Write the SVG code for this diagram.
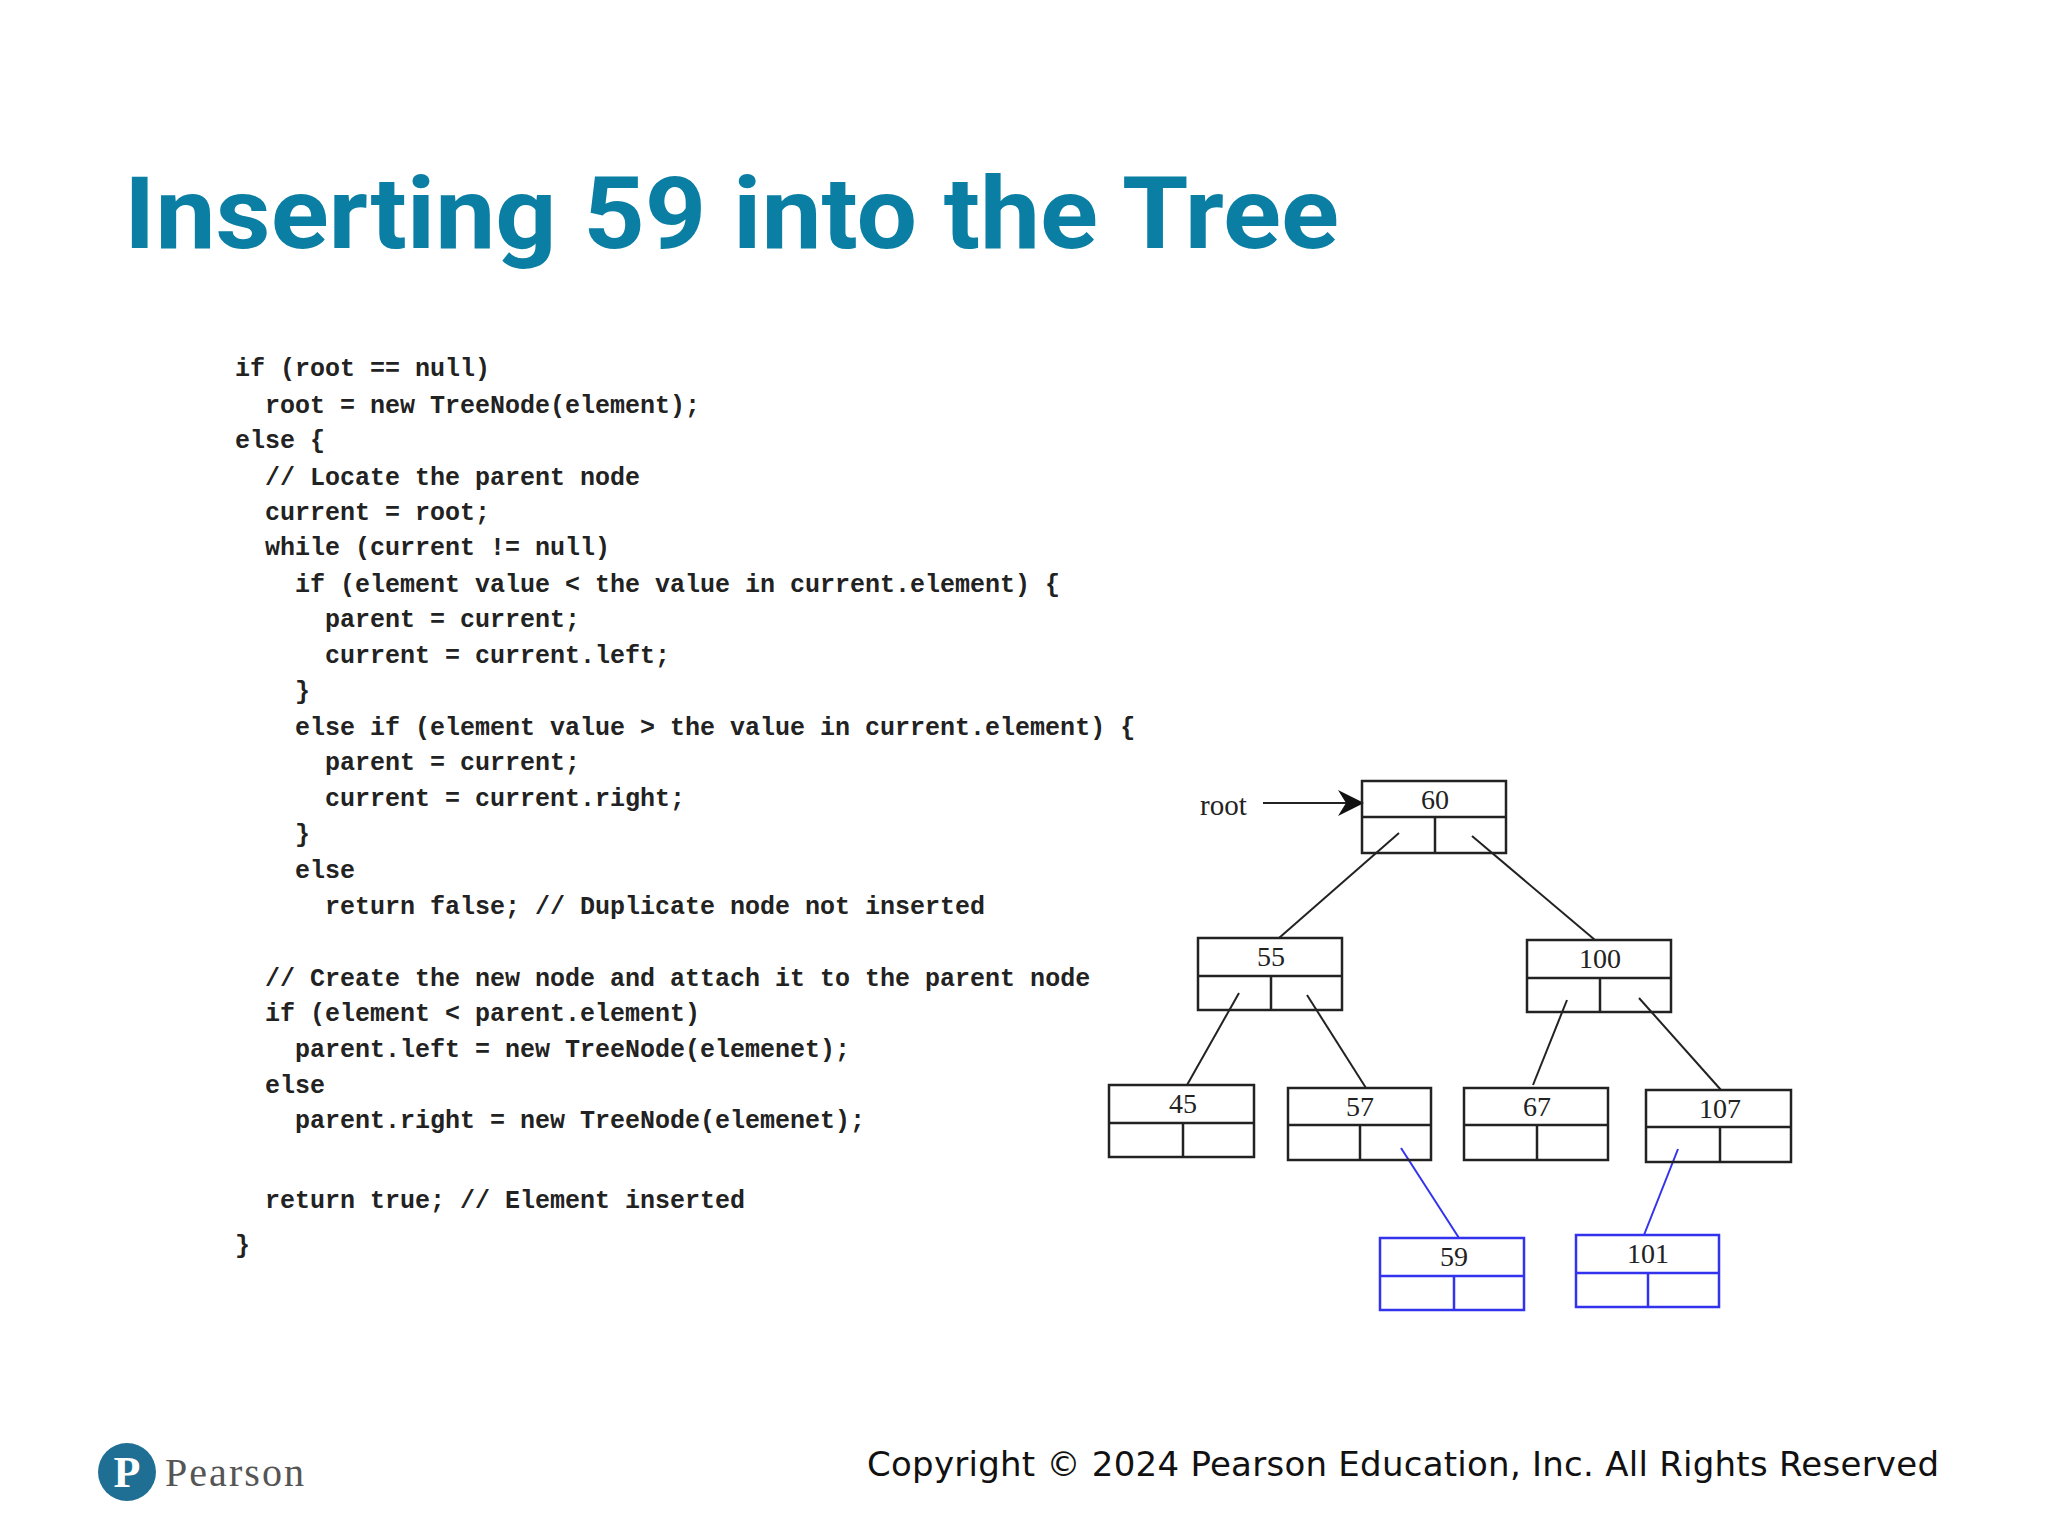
<svg xmlns="http://www.w3.org/2000/svg" width="2048" height="1536" viewBox="0 0 2048 1536">
<style>
.code{font-family:"Liberation Mono","DejaVu Sans Mono",monospace;font-size:25px;font-weight:bold;fill:#222;white-space:pre}
.n rect,.n line{fill:none;stroke:#222;stroke-width:2.5}
.b rect,.b line{fill:none;stroke:#3333ee;stroke-width:2.5}
.n text,.b text{font-family:"Liberation Serif",serif;font-size:28px;fill:#222;text-anchor:middle}
.e{stroke:#222;stroke-width:2}
.eb{stroke:#3333ee;stroke-width:2}
</style>
<defs><marker id="ah" markerWidth="26" markerHeight="26" refX="24" refY="13" orient="auto" markerUnits="userSpaceOnUse"><path d="M0,0 L26,13 L0,26 L8,13 Z" fill="#111"/></marker></defs>
<rect width="2048" height="1536" fill="#fff"/>
<text x="124" y="248" font-family="Roboto,'Liberation Sans',sans-serif" font-weight="bold" font-size="100" fill="#0a7fa3" textLength="1215" lengthAdjust="spacingAndGlyphs">Inserting 59 into the Tree</text>
<g id="code">
<text class="code" x="235" y="376">if (root == null)</text>
<text class="code" x="265" y="413">root = new TreeNode(element);</text>
<text class="code" x="235" y="448">else {</text>
<text class="code" x="265" y="485">// Locate the parent node</text>
<text class="code" x="265" y="520">current = root;</text>
<text class="code" x="265" y="555">while (current != null)</text>
<text class="code" x="295" y="592">if (element value &lt; the value in current.element) {</text>
<text class="code" x="325" y="627">parent = current;</text>
<text class="code" x="325" y="663">current = current.left;</text>
<text class="code" x="295" y="699">}</text>
<text class="code" x="295" y="735">else if (element value &gt; the value in current.element) {</text>
<text class="code" x="325" y="770">parent = current;</text>
<text class="code" x="325" y="806">current = current.right;</text>
<text class="code" x="295" y="842">}</text>
<text class="code" x="295" y="878">else</text>
<text class="code" x="325" y="914">return false; // Duplicate node not inserted</text>
<text class="code" x="265" y="986">// Create the new node and attach it to the parent node</text>
<text class="code" x="265" y="1021">if (element &lt; parent.element)</text>
<text class="code" x="295" y="1057">parent.left = new TreeNode(elemenet);</text>
<text class="code" x="265" y="1093">else</text>
<text class="code" x="295" y="1128">parent.right = new TreeNode(elemenet);</text>
<text class="code" x="265" y="1208">return true; // Element inserted</text>
<text class="code" x="235" y="1253">}</text>
</g>
<g id="connectors">
<line class="e" x1="1263" y1="803" x2="1362" y2="803" stroke-width="2.5" marker-end="url(#ah)"/>
<line class="e" x1="1399" y1="833" x2="1279" y2="938"/>
<line class="e" x1="1472" y1="836" x2="1595" y2="940"/>
<line class="e" x1="1239" y1="993" x2="1187" y2="1085"/>
<line class="e" x1="1307" y1="995" x2="1366" y2="1088"/>
<line class="e" x1="1567" y1="1000" x2="1533" y2="1085"/>
<line class="e" x1="1639" y1="998" x2="1721" y2="1090"/>
<line class="eb" x1="1401" y1="1148" x2="1459" y2="1238"/>
<line class="eb" x1="1678" y1="1149" x2="1644" y2="1235"/>
</g>
<g id="root-label"><text x="1200" y="815" font-family="'Liberation Serif',serif" font-size="29" fill="#222">root</text></g>
<g id="n60" class="n"><rect x="1362" y="781" width="144" height="72"/><line x1="1362" y1="817" x2="1506" y2="817"/><line x1="1435" y1="817" x2="1435" y2="853"/><text x="1435" y="809">60</text></g>
<g id="n55" class="n"><rect x="1198" y="938" width="144" height="72"/><line x1="1198" y1="976" x2="1342" y2="976"/><line x1="1271" y1="976" x2="1271" y2="1010"/><text x="1271" y="966">55</text></g>
<g id="n100" class="n"><rect x="1527" y="940" width="144" height="72"/><line x1="1527" y1="978" x2="1671" y2="978"/><line x1="1600" y1="978" x2="1600" y2="1012"/><text x="1600" y="968">100</text></g>
<g id="n45" class="n"><rect x="1109" y="1085" width="145" height="72"/><line x1="1109" y1="1123" x2="1254" y2="1123"/><line x1="1183" y1="1123" x2="1183" y2="1157"/><text x="1183" y="1113">45</text></g>
<g id="n57" class="n"><rect x="1288" y="1088" width="143" height="72"/><line x1="1288" y1="1125" x2="1431" y2="1125"/><line x1="1360" y1="1125" x2="1360" y2="1160"/><text x="1360" y="1116">57</text></g>
<g id="n67" class="n"><rect x="1464" y="1088" width="144" height="72"/><line x1="1464" y1="1125" x2="1608" y2="1125"/><line x1="1537" y1="1125" x2="1537" y2="1160"/><text x="1537" y="1116">67</text></g>
<g id="n107" class="n"><rect x="1646" y="1090" width="145" height="72"/><line x1="1646" y1="1127" x2="1791" y2="1127"/><line x1="1720" y1="1127" x2="1720" y2="1162"/><text x="1720" y="1118">107</text></g>
<g id="n59" class="b"><rect x="1380" y="1238" width="144" height="72"/><line x1="1380" y1="1276" x2="1524" y2="1276"/><line x1="1454" y1="1276" x2="1454" y2="1310"/><text x="1454" y="1266">59</text></g>
<g id="n101" class="b"><rect x="1576" y="1235" width="143" height="72"/><line x1="1576" y1="1273" x2="1719" y2="1273"/><line x1="1648" y1="1273" x2="1648" y2="1307"/><text x="1648" y="1263">101</text></g>
<g id="footer">
<circle cx="127" cy="1472" r="29" fill="#1f6f94"/>
<text x="127" y="1487" font-family="'Liberation Serif',serif" font-weight="bold" font-size="44" fill="#fff" text-anchor="middle">P</text>
<text x="165" y="1486" font-family="'Liberation Serif',serif" font-size="40" fill="#555" textLength="139">Pearson</text>
<text x="867" y="1476" font-family="'DejaVu Sans','Noto Sans',sans-serif" font-size="34" fill="#111" textLength="1072">Copyright © 2024 Pearson Education, Inc. All Rights Reserved</text>
</g>
</svg>
